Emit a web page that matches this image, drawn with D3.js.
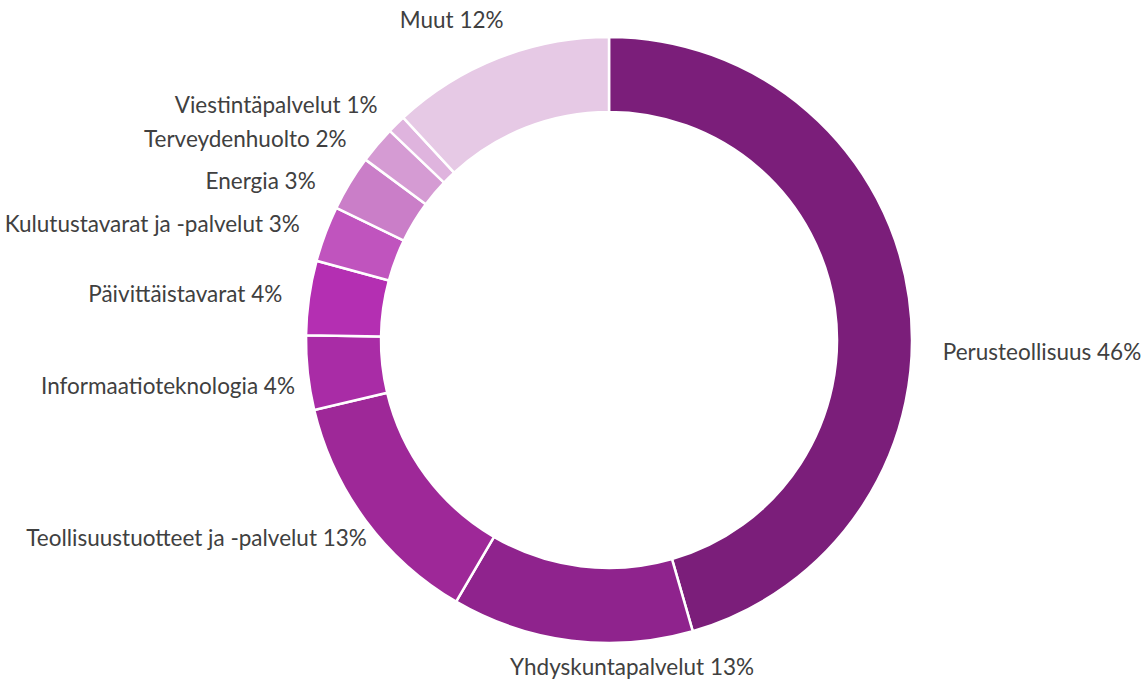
<!DOCTYPE html>
<html>
<head>
<meta charset="utf-8">
<script src="https://cdn.jsdelivr.net/npm/d3@7"></script>
<style>
  body { margin: 0; background: #fff; }
  text { font-family: Lato, "Open Sans", sans-serif; fill: #404040; }
</style>
</head>
<body>
<svg></svg>
<script>
const width = 1144;
const height = 684;

const sectors = ['Perusteollisuus', 'Yhdyskuntapalvelut', 'Teollisuustuotteet ja -palvelut',
	'Informaatioteknologia', 'Päivittäistavarat', 'Kulutustavarat ja -palvelut',
	'Energia', 'Terveydenhuolto', 'Viestintäpalvelut', 'Muut'];
const shares = [46, 13, 13, 4, 4, 3, 3, 2, 1, 12];
const colors = ['#7b1e7a', '#8f238d', '#9e2898', '#a92ca6', '#b42fb2', '#c054be',
	'#ca7ec8', '#d59bd3', '#dfb4de', '#e6c9e5'];

const data = sectors.map((name, i) => ({name: name, value: shares[i], color: colors[i]}));

const cx = 609;
const cy = 340;
const outer = 303;
const inner = 228;

const svg = d3.select('svg')
	.attr('width', width)
	.attr('height', height);

const pie = d3.pie()
	.sort(null)
	.value(d => d.value);

const arc = d3.arc()
	.innerRadius(inner)
	.outerRadius(outer);

const g = svg.append('g')
	.attr('transform', `translate(${cx},${cy})`);

const slices = pie(data);

g.selectAll('path')
	.data(slices)
	.enter()
	.append('path')
	.attr('d', arc)
	.attr('fill', d => d.data.color)
	.attr('stroke', '#fff')
	.attr('stroke-width', 2.5);

// labels sit just outside the ring; a few were moved by hand in the original
const labelArc = d3.arc().innerRadius(330).outerRadius(330);
const shift = {
	'Perusteollisuus': [7, 58],
	'Yhdyskuntapalvelut': [64, 0],
	'Muut': [-37, -13],
	'Informaatioteknologia': [14, 10],
	'Teollisuustuotteet ja -palvelut': [23, 2],
	'Terveydenhuolto': [-10, 12],
	'Energia': [-11, 12]
};

g.selectAll('text')
	.data(slices)
	.enter()
	.append('text')
	.attr('x', d => labelArc.centroid(d)[0] + (shift[d.data.name] || [0, 0])[0])
	.attr('y', d => labelArc.centroid(d)[1] + (shift[d.data.name] || [0, 0])[1])
	.attr('dy', '0.35em')
	.attr('font-size', 22.5)
	.attr('text-anchor', d => {
		const mid = (d.startAngle + d.endAngle) / 2;
		const s = Math.sin(mid);
		if (Math.abs(s) < 0.45) return 'middle';
		return s > 0 ? 'start' : 'end';
	})
	.text(d => `${d.data.name} ${d.data.value}%`);
</script>
</body>
</html>
